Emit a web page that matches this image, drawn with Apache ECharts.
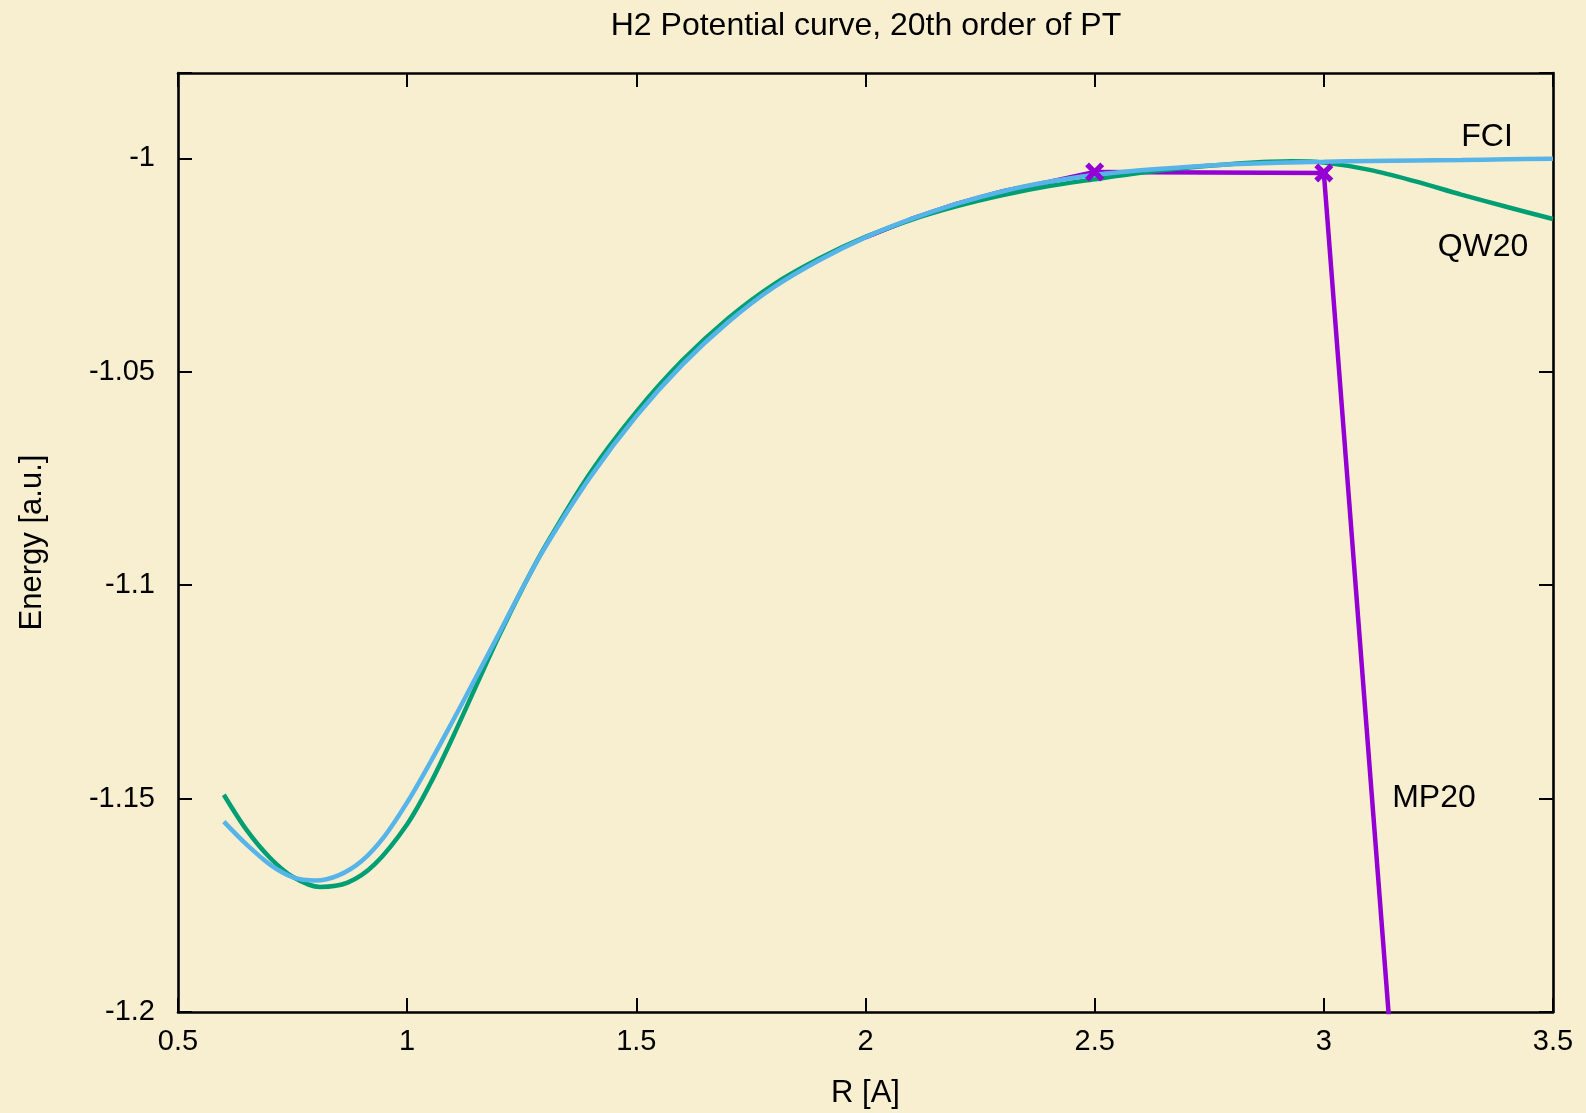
<!DOCTYPE html>
<html>
<head>
<meta charset="utf-8">
<script src="https://cdn.jsdelivr.net/npm/echarts@6/dist/echarts.min.js"></script>
<style>
  html, body { margin: 0; padding: 0; background: #f8efd0; }
  #chart { width: 1586px; height: 1113px; }
</style>
</head>
<body>
<div id="chart"></div>
<script>
// ---- data ----
const titleText = 'H2 Potential curve, 20th order of PT';
const xName = 'R [A]';
const yName = 'Energy [a.u.]';

const rFCI = [0.6, 0.65, 0.7, 0.75, 0.8, 0.85, 0.9, 0.95, 1.0, 1.05, 1.1, 1.15, 1.2, 1.25, 1.3, 1.4, 1.5, 1.6, 1.7, 1.8, 1.9, 2.0, 2.1, 2.2, 2.3, 2.4, 2.5, 2.6, 2.7, 2.8, 2.9, 3.0, 3.1, 3.2, 3.3, 3.4, 3.5];
const eFCI = [-1.1554, -1.1608, -1.1654, -1.1684, -1.1692, -1.1680, -1.1647, -1.1589, -1.1509, -1.1416, -1.1317, -1.1216, -1.1114, -1.1010, -1.0913, -1.0746, -1.0604, -1.0484, -1.0384, -1.0302, -1.0238, -1.0185, -1.0142, -1.0106, -1.0077, -1.0055, -1.0039, -1.0028, -1.0020, -1.0014, -1.0010, -1.0008, -1.0006, -1.0005, -1.0004, -1.0002, -1.0001];

const rQW = [0.6, 0.65, 0.7, 0.75, 0.81, 0.87, 0.93, 1.0, 1.05, 1.1, 1.15, 1.2, 1.25, 1.3, 1.4, 1.5, 1.6, 1.7, 1.8, 1.9, 2.0, 2.1, 2.2, 2.3, 2.4, 2.5, 2.6, 2.7, 2.8, 2.93, 3.0, 3.1, 3.2, 3.3, 3.4, 3.5];
const eQW = [-1.1491, -1.1574, -1.1638, -1.1683, -1.1707, -1.1697, -1.1653, -1.1560, -1.1466, -1.1355, -1.1237, -1.1120, -1.1011, -1.0911, -1.0736, -1.0594, -1.0474, -1.0375, -1.0295, -1.0234, -1.0184, -1.0144, -1.0112, -1.0086, -1.0065, -1.0049, -1.0034, -1.0022, -1.0013, -1.0007, -1.0010, -1.0027, -1.0054, -1.0085, -1.0114, -1.0142];

const rMP = [2.0, 2.1, 2.2, 2.3, 2.4, 2.5, 3.0, 3.5];
const eMP = [-1.0185, -1.0142, -1.0106, -1.0077, -1.0055, -1.0032, -1.0034, -1.7000];
const mpMarked = [2.5, 3.0];

const xTicks = { min: 0.5, max: 3.5, step: 0.5 };
const yTicks = { min: -1.2, max: -0.98, step: 0.05 };

const curveLabels = [
  { text: 'FCI', x: 1487, y: 137 },
  { text: 'QW20', x: 1483, y: 247 },
  { text: 'MP20', x: 1434, y: 798 }
];

// ---- chart ----
const FONT = "'Liberation Sans', Arial, sans-serif";
const xCross = 'path://M4,0 L10,6 L16,0 L20,4 L14,10 L20,16 L16,20 L10,14 L4,20 L0,16 L6,10 L0,4 Z';

const zip = (xs, ys) => xs.map((x, i) => [x, ys[i]]);
const mpPoints = rMP.map((r, i) => [r, eMP[i]]).filter(p => mpMarked.indexOf(p[0]) >= 0);

const axisLineStyle = { color: '#000', width: 2.6 };
const tickStyle = { show: true, inside: true, length: 14, lineStyle: { color: '#000', width: 2 } };

const chart = echarts.init(document.getElementById('chart'), null, { renderer: 'canvas' });
chart.setOption({
  backgroundColor: '#f8efd0',
  animation: false,
  grid: { left: 178, right: 33, top: 73, bottom: 101, containLabel: false, outerBoundsMode: 'none' },
  xAxis: [
    {
      type: 'value', position: 'bottom',
      min: xTicks.min, max: xTicks.max, interval: xTicks.step,
      name: xName, nameLocation: 'middle', nameGap: 66,
      nameTextStyle: { fontFamily: FONT, fontSize: 31, color: '#000' },
      axisLine: { show: true, onZero: false, lineStyle: axisLineStyle },
      axisTick: tickStyle,
      axisLabel: { margin: 15, fontFamily: FONT, fontSize: 29, color: '#000' },
      splitLine: { show: false }
    },
    {
      type: 'value', position: 'top',
      min: xTicks.min, max: xTicks.max, interval: xTicks.step,
      axisLine: { show: true, onZero: false, lineStyle: axisLineStyle },
      axisTick: tickStyle,
      axisLabel: { show: false },
      splitLine: { show: false }
    }
  ],
  yAxis: [
    {
      type: 'value', position: 'left',
      min: yTicks.min, max: yTicks.max, interval: yTicks.step,
      name: yName, nameLocation: 'middle', nameGap: 130, nameRotate: 90,
      nameTextStyle: { fontFamily: FONT, fontSize: 31, color: '#000' },
      axisLine: { show: true, onZero: false, lineStyle: axisLineStyle },
      axisTick: tickStyle,
      axisLabel: {
        margin: 23, fontFamily: FONT, fontSize: 29, color: '#000',
        formatter: v => {
          const k = Math.round((v - yTicks.min) / yTicks.step);
          if (Math.abs(yTicks.min + k * yTicks.step - v) > 1e-6) return '';
          return String(+v.toFixed(2));
        }
      },
      splitLine: { show: false }
    },
    {
      type: 'value', position: 'right',
      min: yTicks.min, max: yTicks.max, interval: yTicks.step,
      axisLine: { show: true, onZero: false, lineStyle: axisLineStyle },
      axisTick: tickStyle,
      axisLabel: { show: false },
      splitLine: { show: false }
    }
  ],
  series: [
    {
      name: 'MP20', type: 'line', xAxisIndex: 0, yAxisIndex: 0,
      data: zip(rMP, eMP), smooth: false, clip: true,
      showSymbol: false, symbol: 'none',
      lineStyle: { color: '#9400d3', width: 4.5 },
      z: 2
    },
    {
      name: 'QW20', type: 'line', xAxisIndex: 0, yAxisIndex: 0,
      data: zip(rQW, eQW), smooth: 0.33, showSymbol: false, symbol: 'none', clip: true,
      lineStyle: { color: '#009e73', width: 4.5 },
      z: 3
    },
    {
      name: 'FCI', type: 'line', xAxisIndex: 0, yAxisIndex: 0,
      data: zip(rFCI, eFCI), smooth: 0.33, showSymbol: false, symbol: 'none', clip: true,
      lineStyle: { color: '#56b4e9', width: 4.5 },
      z: 4
    },
    {
      name: 'MP20 points', type: 'scatter', xAxisIndex: 0, yAxisIndex: 0,
      data: mpPoints, symbol: xCross, symbolSize: 19,
      itemStyle: { color: '#9400d3', opacity: 1 },
      z: 6
    }
  ],
  graphic: [
    {
      type: 'text', x: 866, y: 26, z: 10,
      style: { text: titleText, fontFamily: FONT, fontSize: 32, fill: '#000', align: 'center', verticalAlign: 'middle' }
    }
  ].concat(curveLabels.map(l => ({
    type: 'text', x: l.x, y: l.y, z: 10,
    style: { text: l.text, fontFamily: FONT, fontSize: 32, fill: '#000', align: 'center', verticalAlign: 'middle' }
  })))
});
</script>
</body>
</html>
